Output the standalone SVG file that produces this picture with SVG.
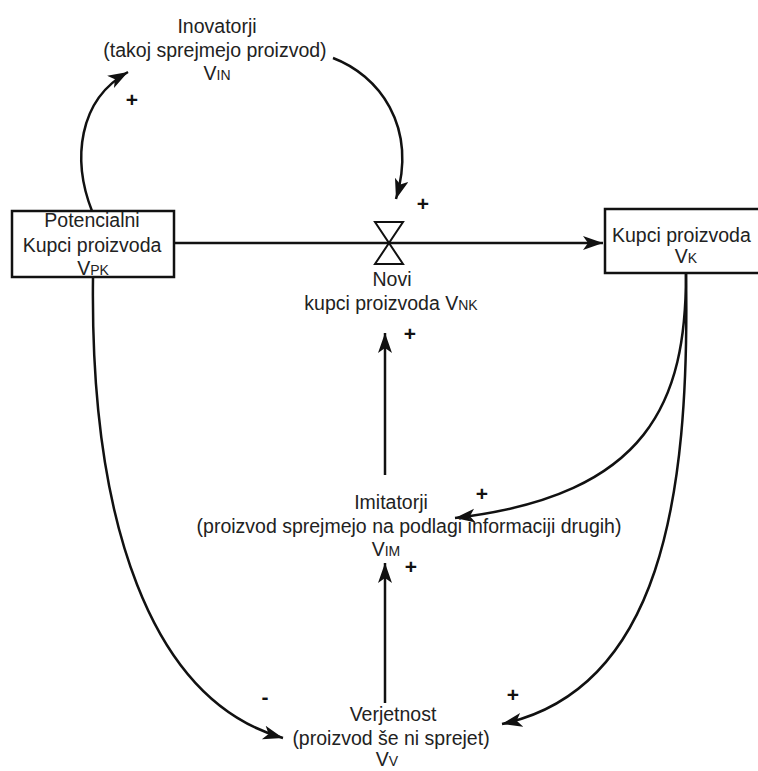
<svg xmlns="http://www.w3.org/2000/svg" width="758" height="771" viewBox="0 0 758 771">
<style>
text{font-family:"Liberation Sans",Arial,sans-serif;font-size:19.5px;fill:#222}
.s{font-size:14px}
.box{fill:#fff;stroke:#111;stroke-width:2.5}
.c{fill:none;stroke:#111;stroke-width:2.5}
.m{text-anchor:middle}
.p{font-size:21px;font-weight:bold;fill:#111}
</style>
<defs>
<marker id="a" markerUnits="userSpaceOnUse" markerWidth="22" markerHeight="16" refX="20" refY="7" orient="auto">
<path d="M0,0 L20,7 L0,14 L5,7 z" fill="#111"/>
</marker>
</defs>
<g id="connectors">
<path class="c" d="M174,243 L603,243" marker-end="url(#a)"/>
<path class="c" d="M92,211 C72,160 78,100 128,72" marker-end="url(#a)"/>
<path class="c" d="M333,58 C378,75 418,125 396,199" marker-end="url(#a)"/>
<path class="c" d="M385,475 L385,333" marker-end="url(#a)"/>
<path class="c" d="M385,703 L385,563" marker-end="url(#a)"/>
<path class="c" d="M686,274 C686,400 650,495 455,518" marker-end="url(#a)"/>
<path class="c" d="M686,274 C690,500 660,690 502,724" marker-end="url(#a)"/>
<path class="c" d="M93,278 C90,520 150,700 283,738" marker-end="url(#a)"/>
</g>
<g id="valve">
<path d="M375,222 L403,222 L375,264 L403,264 z" fill="#fff" stroke="#111" stroke-width="2"/>
</g>
<g id="potencialni">
<rect class="box" x="12" y="211" width="162" height="66"/>
<text class="m" x="92" y="227">Potencialni</text>
<text class="m" x="92" y="252">Kupci proizvoda</text>
<text class="m" x="93" y="275">V<tspan class="s">PK</tspan></text>
</g>
<g id="kupci">
<rect class="box" x="605" y="209" width="180" height="64"/>
<text x="612" y="242">Kupci proizvoda</text>
<text class="m" x="686" y="263">V<tspan class="s">K</tspan></text>
</g>
<g id="inovatorji">
<text class="m" x="217" y="33">Inovatorji</text>
<text class="m" x="215" y="57">(takoj sprejmejo proizvod)</text>
<text class="m" x="217" y="80">V<tspan class="s">IN</tspan></text>
</g>
<g id="novi">
<text class="m" x="392" y="286">Novi</text>
<text class="m" x="391" y="310">kupci proizvoda V<tspan class="s">NK</tspan></text>
</g>
<g id="imitatorji">
<text class="m" x="391" y="509">Imitatorji</text>
<text class="m" x="409" y="533">(proizvod sprejmejo na podlagi informaciji drugih)</text>
<text class="m" x="386" y="556">V<tspan class="s">IM</tspan></text>
</g>
<g id="verjetnost">
<text class="m" x="393" y="721">Verjetnost</text>
<text class="m" x="391" y="745">(proizvod še ni sprejet)</text>
<text class="m" x="387" y="766">V<tspan class="s">V</tspan></text>
</g>
<g id="labels">
<text class="m p" x="132" y="107">+</text>
<text class="m p" x="423" y="211">+</text>
<text class="m p" x="410" y="341">+</text>
<text class="m p" x="482" y="501">+</text>
<text class="m p" x="411" y="574">+</text>
<text class="m p" x="513" y="702">+</text>
<text class="m p" x="265" y="704">-</text>
</g>
</svg>
